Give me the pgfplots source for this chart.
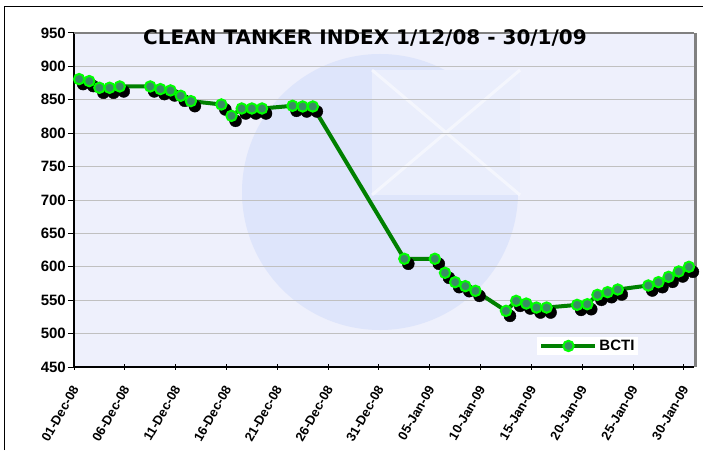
\documentclass[border=0pt]{standalone}
\usepackage{pgfplots}
\usepackage{pgfplotstable}
\pgfplotsset{compat=1.18}
\usepackage{fontspec}
\setmainfont{Liberation Sans}
\newfontfamily\titlefont{DejaVu Sans}
\definecolor{plotbg}{RGB}{238,240,252}
\definecolor{wm}{RGB}{222,229,251}
\definecolor{wm2}{RGB}{234,238,252}
\definecolor{linegreen}{RGB}{0,128,0}
\definecolor{markfill}{RGB}{58,140,100}
\definecolor{markedge}{RGB}{0,255,0}
\definecolor{gridgray}{RGB}{192,192,192}
\definecolor{framegray}{RGB}{128,128,128}

\pgfplotstableread{
day val
0.5 881
1.5 878
2.5 868
3.5 868
4.5 870
7.5 870
8.5 866
9.5 864
10.5 856
11.5 848
14.5 843
15.5 826
16.5 837
17.5 837
18.5 837
21.5 841
22.5 840
23.5 840
32.5 612
35.5 612
36.5 591
37.5 577
38.5 571
39.5 564
42.5 534
43.5 549
44.5 545
45.5 539
46.5 539
49.5 543
50.5 544
51.5 558
52.5 562
53.5 566
56.5 572
57.5 577
58.5 585
59.5 593
60.5 600
}\bcti

\begin{document}
\begin{tikzpicture}[x=1pt,y=1pt]
\path[use as bounding box] (0,0) rectangle (703,450);
\fill[white] (0,0) rectangle (703,450);
\draw[black, line width=1pt] (4,0) -- (4,443) -- (703,443);
\fill[plotbg] (74,83) rectangle (694,417);
\begin{scope}
\clip (74,83) rectangle (694,417);
\fill[wm] (380,258) circle (138);
\fill[wm2] (372,255) rectangle (520,380);
\draw[white, line width=3pt, opacity=0.5] (372,255) -- (520,380) (372,380) -- (520,255);
\end{scope}
\begin{axis}[
  at={(74pt,83pt)}, anchor=south west,
  width=620pt, height=334pt, scale only axis,
  xmin=0, xmax=61, ymin=450, ymax=950,
  clip=false,
  ytick={450,500,...,950},
  xtick={0,5,...,60},
  xticklabels={01-Dec-08,06-Dec-08,11-Dec-08,16-Dec-08,21-Dec-08,26-Dec-08,31-Dec-08,05-Jan-09,10-Jan-09,15-Jan-09,20-Jan-09,25-Jan-09,30-Jan-09},
  axis x line*=bottom, axis y line*=left,
  axis line style={black, line width=1.5pt, -},
  ymajorgrids, grid style={gridgray, line width=0.8pt},
  tick style={black, line width=1pt},
  tick align=outside,
  major tick length=6pt,
  xtick style={yshift=3.5pt},
  /pgf/number format/assume math mode=true,
  yticklabel style={font=\bfseries\fontsize{15}{15}\selectfont, inner sep=2pt},
  xticklabel style={font=\bfseries\fontsize{13}{13}\selectfont, yshift=-13pt, xshift=2pt, rotate=60, anchor=east, inner sep=1pt},
  legend style={at={(0.829,0.063)}, anchor=center, draw=none, fill=white,
    font=\bfseries\fontsize{15}{15}\selectfont, inner xsep=2pt, inner ysep=1pt},
  legend image code/.code={\draw[mark repeat=2,mark phase=2,#1] plot coordinates {(0pt,0pt) (27pt,0pt) (54pt,0pt)};},
]
\addplot[only marks, mark=*, mark size=6pt, black, mark options={xshift=4pt, yshift=-5pt, fill=black, draw=black}, forget plot] table[x=day, y=val] {\bcti};
\addplot[linegreen, line width=4pt, mark=*, mark size=5.2pt, mark options={fill=markfill, draw=markedge, line width=2pt}] table[x=day, y=val] {\bcti};
\addlegendentry{BCTI}
\draw[framegray, line width=1.5pt] (rel axis cs:0,1) -- (rel axis cs:1,1);
\draw[framegray, line width=3pt] ([xshift=1.5pt]rel axis cs:1,1) -- ([xshift=1.5pt]rel axis cs:1,0);
\end{axis}
\node[font=\titlefont\bfseries\fontsize{20}{20}\selectfont, inner sep=0pt] at (365,412) {CLEAN TANKER INDEX 1/12/08 - 30/1/09};
\end{tikzpicture}
\end{document}
